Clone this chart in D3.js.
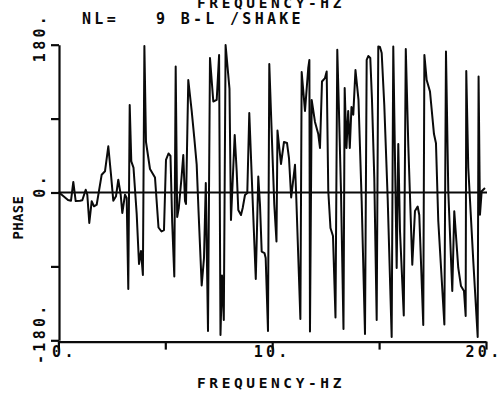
<!DOCTYPE html>
<html>
<head>
<meta charset="utf-8">
<script src="https://cdn.jsdelivr.net/npm/d3@7"></script>
<style>
  html, body { margin: 0; padding: 0; background: #fff; }
  svg { display: block; }
  text { font-family: "DejaVu Sans Mono", monospace; font-weight: bold; fill: #0a0a0a; white-space: pre; }
</style>
</head>
<body>
<script>
// Phase spectrum, frequency in Hz vs phase in degrees
const freq = [
  0.03, 0.449, 0.589, 0.697, 0.809, 1.010, 1.118, 1.277, 1.352, 1.445,
  1.557, 1.665, 1.791, 2.025, 2.179, 2.334, 2.460, 2.568, 2.694, 2.801,
  2.914, 2.989, 3.115, 3.194, 3.269, 3.335, 3.410, 3.512, 3.662, 3.770,
  3.863, 3.952, 4.022, 4.097, 4.284, 4.518, 4.682, 4.822, 4.939, 5.032,
  5.149, 5.243, 5.322, 5.421, 5.486, 5.556, 5.631, 5.757, 5.841, 5.921,
  5.968, 6.075, 6.234, 6.356, 6.468, 6.552, 6.702, 6.810, 6.894, 6.997,
  7.090, 7.245, 7.404, 7.516, 7.581, 7.652, 7.736, 7.820, 8.002, 8.072,
  8.246, 8.339, 8.414, 8.540, 8.620, 8.727, 8.835, 8.928, 9.078, 9.232,
  9.349, 9.429, 9.508, 9.639, 9.695, 9.803, 9.864, 10.013, 10.098, 10.200,
  10.247, 10.411, 10.551, 10.692, 10.785, 10.888, 11.066, 11.122, 11.318, 11.379,
  11.534, 11.688, 11.739, 11.767, 11.847, 12.001, 12.155, 12.235, 12.329, 12.469,
  12.548, 12.623, 12.726, 12.843, 12.960, 13.044, 13.114, 13.217, 13.334, 13.390,
  13.474, 13.554, 13.629, 13.708, 13.792, 13.895, 14.036, 14.185, 14.340, 14.419,
  14.494, 14.588, 14.667, 14.775, 14.887, 14.962, 15.041, 15.121, 15.242, 15.401,
  15.588, 15.663, 15.822, 15.897, 15.977, 16.154, 16.248, 16.365, 16.552, 16.678,
  16.804, 16.879, 17.066, 17.118, 17.225, 17.380, 17.567, 17.660, 17.768, 18.053,
  18.128, 18.236, 18.423, 18.516, 18.703, 18.830, 18.970, 19.049, 19.077, 19.171,
  19.405, 19.611, 19.653, 19.718, 19.798, 19.952
];
const phase = [
  0, -9.1, -10.0, 12.8, -10.4, -10.0, -9.5, 3.4, -2.7, -37.1,
  -10.7, -16.8, -14.9, 21.7, 25.8, 56.3, 21.7, -10.0, -4.6, 15.6,
  -2.7, -25.0, -2.7, -6.7, -117.5, 106.6, 37.8, 30.4, -26.2, -87.1,
  -71.2, -100.5, 178.4, 61.5, 28.6, 18.3, -42.6, -47.5, -45.7, 39.6,
  47.5, 44.5, -35.9, -102.3, 153.5, -29.8, -18.9, 17.7, 45.7, -10.4,
  -14.0, 137.0, 99.3, 66.4, 33.9, -21.3, -113.3, -79.8, 11.6, -168.7,
  163.8, 110.8, 112.7, 167.5, -173.6, -101.1, -155.3, 179.6, 126.1, -33.5,
  70.0, 25.8, -21.3, -27.4, -18.9, -3.0, -0.6, 96.8, -4.3, -105.3,
  19.5, -14.9, -71.9, -73.7, -79.8, -168.7, 156.5, 45.7, -14.9, -59.7,
  75.5, 34.7, 61.5, 60.3, 42.0, -6.1, 33.7, -3.0, -154.1, 146.8,
  99.3, 152.2, 161.4, -169.3, 112.7, 85.9, 71.2, 54.2, 135.2, 139.4,
  147.4, 1.8, -43.2, -53.0, -152.2, 173.8, 107.8, 1.8, -166.2, 127.3,
  54.2, 99.3, 54.2, 104.1, 94.8, 149.2, 112.7, -10.4, -172.3, 161.4,
  166.2, 163.8, 112.7, 17.7, -155.3, 177.8, 177.2, 169.9, 106.9, -6.7,
  -176.0, 177.8, -91.9, 59.1, -46.9, -149.8, 174.8, 57.9, -87.9, -22.5,
  -17.1, -27.4, -161.4, 167.5, 137.0, 123.0, 71.2, 59.9, -34.7, -160.8,
  171.7, 1.5, -120.0, -22.9, -91.9, -113.9, -120.0, -150.4, 148.0, 29.8,
  -83.4, -176.0, 141.3, -27.0, 1.5, 5.5
];
const xTicks = [0, 5, 10, 15, 20];
const xTickLabels = ["0.", "", "10.", "", "20."];
const yTicks = [-180, -90, 0, 90, 180];
const yTickLabels = ["-180.", "", "0.", "", "180."];
const xTitle = "FREQUENCY-HZ";
const yTitle = "PHASE";
const runLabel = "NL=   9 B-L /SHAKE";

const W = 504, H = 395;
const margin = { left: 58.4, right: 18, top: 44.7, bottom: 54.7 };
const pitch = 12.33; // character pitch of the plotter lettering
const fs = 14.5;

const svg = d3.select("body").append("svg").attr("width", W).attr("height", H);

const x = d3.scaleLinear().domain([0, 20]).range([margin.left, W - margin.right]);
const y = d3.scaleLinear().domain([-180, 180]).range([H - margin.bottom, margin.top]);

const ink = "#0a0a0a";

// axes
const yAxis = d3.axisLeft(y).tickValues(yTicks).tickSize(8).tickSizeOuter(0).tickFormat("");
const gy = svg.append("g").attr("transform", `translate(${x(0) + 0.6},0)`).call(yAxis);
const xAxisY = y(-180) + 1.3;
const xAxis = d3.axisBottom(x).tickValues(xTicks).tickSize(8).tickSizeOuter(0).tickFormat("");
const gx = svg.append("g").attr("transform", `translate(0,${xAxisY})`).call(xAxis);
[gx, gy].forEach(g => {
  g.select(".domain").attr("stroke", ink).attr("stroke-width", 2.2);
  g.selectAll(".tick line").attr("stroke", ink).attr("stroke-width", 2.2);
});

// zero reference line
svg.append("line")
  .attr("x1", x(0)).attr("x2", x(20) + 1)
  .attr("y1", y(0)).attr("y2", y(0))
  .attr("stroke", ink).attr("stroke-width", 2.2);

// phase trace
const line = d3.line().x((d, i) => x(freq[i])).y(d => y(d));
svg.append("path")
  .datum(phase)
  .attr("d", line)
  .attr("fill", "none")
  .attr("stroke", ink)
  .attr("stroke-width", 2)
  .attr("stroke-linejoin", "round");

// x tick labels
const xLabelShift = { 0: 6, 20: -2 };
svg.append("g").selectAll("text")
  .data(xTicks.map((v, i) => ({ v, t: xTickLabels[i] })).filter(d => d.t))
  .join("text")
  .attr("x", d => x(d.v) + (xLabelShift[d.v] || 0))
  .attr("y", 356.7)
  .attr("text-anchor", "middle")
  .attr("font-size", 15)
  .attr("letter-spacing", 3.3)
  .text(d => d.t);

// y tick labels, read upward, numeral centred on tick
svg.append("g").selectAll("text")
  .data(yTicks.map((v, i) => ({ v, t: yTickLabels[i] })).filter(d => d.t))
  .join("text")
  .attr("transform", d => `translate(45,${y(d.v) + (d.t.length - 1) * pitch / 2 - 1}) rotate(-90)`)
  .attr("font-size", 15)
  .attr("letter-spacing", 3.3)
  .text(d => d.t);

// axis titles
svg.append("text")
  .attr("x", 271).attr("y", 388.3)
  .attr("text-anchor", "middle")
  .attr("font-size", fs)
  .attr("letter-spacing", pitch - 0.602 * fs)
  .text(xTitle);

// repeated heading at the top edge of the sheet
svg.append("text")
  .attr("x", 271).attr("y", 8.3)
  .attr("text-anchor", "middle")
  .attr("font-size", fs)
  .attr("letter-spacing", pitch - 0.602 * fs)
  .text(xTitle);

svg.append("text")
  .attr("x", 82).attr("y", 24)
  .attr("font-size", 15)
  .attr("letter-spacing", pitch - 0.602 * 15)
  .text(runLabel);

svg.append("text")
  .attr("transform", "translate(22.7,239.5) rotate(-90)")
  .attr("font-size", 14)
  .attr("letter-spacing", 0.3)
  .text(yTitle);
</script>
</body>
</html>
